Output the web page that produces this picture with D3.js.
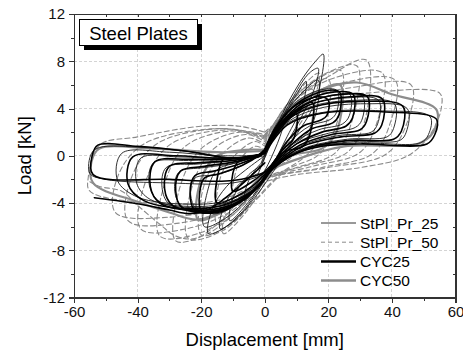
<!DOCTYPE html>
<html>
<head>
<meta charset="utf-8">
<title>Steel Plates</title>
<style>
  body { margin: 0; background: #fff; }
  svg, svg text { font-family: "Liberation Sans", Arial, sans-serif; }
  .grid line { stroke: #d4d4d4; stroke-width: 1px; stroke-dasharray: 3,2; shape-rendering: crispEdges; }
  .axis path, .axis line { fill: none; stroke: #333; shape-rendering: crispEdges; }
  .axis text { font-size: 15px; fill: #111; font-family: "Liberation Sans", Arial, sans-serif; }
  .loop { fill: none; stroke-linejoin: round; stroke-linecap: round; }
</style>
</head>
<body>
<script src="https://d3js.org/d3.v7.min.js"></script>
<script>

var xTicks = [-60, -40, -20, 0, 20, 40, 60];
var yTicks = [-12, -8, -4, 0, 4, 8, 12];
var seriesNames = ["StPl_Pr_25", "StPl_Pr_50", "CYC25", "CYC50"];

// thin black: StPl_Pr_25, one array per cycle, [displacement mm, load kN]
var stplPr25 = [
  [[-1,-0.6],[2,1.4],[5,3.0],[6.5,3.6],[5.5,2.2],[2,-0.2],[-2,-2.2],[-5,-3.4],[-6.5,-3.8],[-5.5,-2.4],[-3,-1.2],[-1,-0.6]],
  [[-1,-0.8],[4,2.2],[10,5.2],[13,6.3],[12,4.4],[7,1.6],[1,-1.5],[-6,-4.2],[-11,-5.5],[-10,-3.6],[-5,-1.6],[-1,-0.8]],
  [[-2,-1.5],[3,1.8],[9,5.0],[14,7.0],[16.8,7.4],[15.5,5.6],[11,3.0],[5,0.2],[-1,-2.5],[-8,-5.0],[-14,-6.2],[-13,-4.4],[-8,-2.4],[-2,-1.5]],
  [[0,0],[6,3.8],[12,6.6],[16,8.0],[18.4,8.6],[17.8,6.5],[15,4.0],[10,1.8],[4,-0.8],[-3,-3.5],[-10,-5.6],[-17.7,-6.6],[-16.5,-4.5],[-12,-2.6],[-6,-1.2],[0,0]],
  [[0,0],[6,3.4],[12,5.4],[16.8,6.4],[16,3.5],[13,1.8],[7,0.6],[1,-1.4],[-6,-3.8],[-13,-5.4],[-19,-6.0],[-18,-3.0],[-15,-1.2],[-9,-0.6],[-4,-0.2],[0,0]],
  [[0,0.6],[4,2.8],[10,4.6],[18,5.6],[22.8,5.5],[22.6,3.7],[20.8,3.1],[14,2.5],[8,1.2],[3,-0.4],[-2,-2.4],[-8,-3.9],[-15,-4.9],[-21.5,-4.5],[-23.3,-3.3],[-22,-1.9],[-15,-1.6],[-7,-0.8],[-2,0.1],[0,0.6]],
  [[0,0.5],[5,2.8],[12,4.5],[21,5.4],[26.8,5.2],[26.6,3.4],[24.5,2.7],[17,2.2],[9,1.1],[3,-0.6],[-2,-2.5],[-9,-4.0],[-17,-4.8],[-26,-4.3],[-28.3,-3.0],[-27,-1.4],[-19,-1.0],[-9,-0.6],[-2,0.1],[0,0.5]],
  [[0,0.5],[5,2.8],[13,4.4],[23,5.2],[30.8,5.0],[30.5,3.0],[28.5,2.4],[20,1.9],[10,1.0],[3,-0.7],[-2,-2.5],[-10,-4.1],[-19,-4.6],[-30,-4.1],[-32.3,-2.7],[-31,-1.0],[-21,-0.7],[-10,-0.4],[-2,0.1],[0,0.5]],
  [[0,0.4],[6,2.9],[14,4.3],[26,4.9],[35.8,4.7],[35.5,2.7],[33.5,2.0],[23,1.7],[11,0.8],[3,-0.8],[-2,-2.5],[-10,-4.0],[-20,-4.4],[-33,-3.9],[-36.3,-2.5],[-35,-0.6],[-24,-0.4],[-11,-0.3],[-2,0.1],[0,0.4]],
  [[0,0.4],[6,2.9],[15,4.2],[29,4.7],[40.8,4.4],[40.5,2.3],[38.5,1.6],[26,1.4],[12,0.6],[3,-0.9],[-2,-2.5],[-11,-3.9],[-22,-4.3],[-36,-3.7],[-40.3,-2.3],[-39,-0.2],[-27,-0.1],[-12,-0.2],[-2,0.1],[0,0.4]],
  [[0,0.3],[7,2.8],[17,4.0],[32,4.4],[44.8,4.0],[44.5,2.0],[42.5,1.3],[28,1.2],[13,0.5],[3,-1.0],[-2,-2.4],[-12,-3.8],[-24,-4.1],[-40,-3.5],[-46.3,-2.1],[-45,0.2],[-30,0.3],[-14,0],[-2,0.1],[0,0.3]],
  [[0,0.2],[7,2.7],[19,3.7],[37,3.8],[52,3.3],[51.5,1.8],[49,1.1],[30,1.1],[16,0.8],[7,0],[0,-1.5],[-10,-2.3],[-30,-2.3],[-50,-2.0],[-55,-1.5],[-54.5,0.2],[-52,0.7],[-38,0.7],[-22,0.3],[-9,-0.2],[0,0.2]]
];

// grey dashed: StPl_Pr_50
var stplPr50 = [
  [[0,0.5],[4,2.8],[10,4.2],[8,0.8],[3,-0.8],[-3,-2.6],[-10,-4.2],[-8,-0.5],[-3,0.8],[0,0.5]],
  [[0,0.8],[5,3.4],[10,4.8],[15,5.6],[13.5,1.6],[9,0],[3,-1.2],[-4,-3.4],[-10,-5.0],[-15,-5.8],[-13.5,-1.5],[-8,0.4],[-3,1.2],[0,0.8]],
  [[-2,-1.2],[4,2.6],[11,5.6],[17,7.0],[15.5,4.8],[9,1.8],[2,-1.4],[-6,-4.8],[-13,-6.6],[-12,-4.4],[-6,-2.0],[-2,-1.2]],
  [[0,1.0],[6,4.0],[14,5.8],[20,6.5],[18.5,2.0],[13,0],[5,-1.5],[-4,-4.0],[-12,-6.0],[-20,-6.7],[-18.5,-2.0],[-12,0.5],[-5,1.5],[0,1.0]],
  [[0,1.2],[7,4.3],[16,6.4],[24,7.2],[22.5,2.6],[17,0.1],[7,-1.2],[-3,-3.8],[-13,-6.3],[-24,-7.0],[-22.5,-2.3],[-16,0.6],[-6,1.8],[0,1.2]],
  [[0,1.5],[8,4.6],[18,6.8],[29,7.6],[27.5,3.0],[22,0.2],[10,-1.0],[0,-2.0],[-8,-4.5],[-18,-6.6],[-28,-7.2],[-26.5,-2.5],[-20,0.6],[-8,2.0],[0,1.5]],
  [[0,1.4],[9,4.6],[20,6.7],[32,8.1],[31.5,3.0],[26,0.3],[12,-0.9],[0,-1.9],[-9,-4.6],[-20,-6.5],[-33,-6.8],[-31.5,-2.4],[-25,0.8],[-10,2.1],[0,1.4]],
  [[0,1.6],[10,4.8],[22,6.6],[37,7.0],[35.5,3.0],[30,0.3],[15,-0.9],[0,-2.0],[-10,-4.6],[-25,-6.2],[-39,-6.2],[-37.5,-2.2],[-30,0.9],[-12,2.2],[0,1.6]],
  [[0,1.7],[11,4.7],[25,6.2],[41,6.4],[39.5,2.8],[34,0.2],[18,-1.0],[0,-2.0],[-11,-4.4],[-27,-5.7],[-43,-5.5],[-42,-1.9],[-34,1.0],[-14,2.3],[0,1.7]],
  [[0,1.8],[12,4.7],[28,5.8],[46,6.0],[44.5,2.6],[38,0.1],[20,-1.0],[0,-2.0],[-12,-4.2],[-30,-5.2],[-47,-4.8],[-46,-1.6],[-38,1.0],[-15,2.3],[0,1.8]],
  [[0,2.0],[14,4.6],[32,5.3],[55,5.3],[55.5,4.0],[52,1.8],[45,0],[30,-1.0],[10,-1.6],[0,-2.2],[-15,-3.8],[-35,-4.0],[-55,-3.0],[-55.5,-1.8],[-52,0.9],[-40,1.6],[-20,2.5],[-8,2.5],[0,2.0]],
  [[-55,-2.2],[-52,-2.6],[-45,-3.0],[-40,-4.2],[-33,-5.8],[-28,-6.8],[-22,-7.0],[-15,-5.8],[-8,-3.8],[0,-1.6]]
];

// thick black: CYC25
var cyc25 = [
  [[0,0.2],[4,2.0],[10,3.5],[9,1.4],[6,0.6],[2,-0.8],[-4,-2.2],[-10,-3.0],[-9.5,-1.0],[-7,-0.2],[-3,0],[0,0.2]],
  [[0,0.3],[5,2.6],[10,3.8],[15,4.5],[14.2,1.8],[12,0.8],[6,0.3],[2,-1.0],[-4,-2.6],[-10,-3.6],[-15,-4.0],[-14.5,-1.3],[-13,-0.3],[-7,-0.2],[-2,-0.1],[0,0.3]],
  [[0,0.5],[4,2.6],[10,4.3],[17,5.0],[20,4.7],[19.5,3.4],[17.5,3.0],[12,2.5],[7,1.2],[3,-0.5],[-2,-2.5],[-8,-3.9],[-14,-4.6],[-20,-4.6],[-20.5,-3.2],[-19,-1.9],[-14,-1.5],[-7,-0.8],[-2,0],[0,0.5]],
  [[0,0.5],[4,2.6],[10,4.4],[19,5.5],[23.5,5.4],[23.4,3.5],[21.5,2.8],[15,2.3],[9,1.1],[3,-0.6],[-2,-2.6],[-8,-4.0],[-15,-4.8],[-22,-4.6],[-23.5,-3.2],[-22,-1.7],[-16,-1.3],[-8,-0.7],[-2,0],[0,0.5]],
  [[0,0.4],[5,2.7],[12,4.5],[22,5.4],[27.8,5.2],[27.6,3.2],[25.5,2.5],[18,2.0],[10,1.0],[3,-0.7],[-2,-2.6],[-9,-4.1],[-17,-4.8],[-26,-4.4],[-28,-3.0],[-26.5,-1.3],[-19,-0.9],[-9,-0.5],[-2,0],[0,0.4]],
  [[0,0.4],[5,2.7],[13,4.4],[24,5.2],[32.3,5.0],[32,2.9],[30,2.2],[21,1.8],[11,0.9],[3,-0.8],[-2,-2.6],[-10,-4.2],[-19,-4.7],[-29,-4.2],[-31.5,-2.8],[-30,-0.9],[-21,-0.6],[-10,-0.4],[-2,0],[0,0.4]],
  [[0,0.3],[6,2.8],[14,4.3],[27,5.0],[37,4.8],[36.8,2.6],[34.5,1.9],[24,1.6],[12,0.8],[3,-0.9],[-2,-2.6],[-10,-4.1],[-20,-4.6],[-33,-4.0],[-36,-2.6],[-34.5,-0.5],[-24,-0.3],[-11,-0.3],[-2,0],[0,0.3]],
  [[0,0.3],[6,2.8],[15,4.1],[30,4.6],[43.4,4.2],[43,2.1],[40.5,1.4],[27,1.3],[13,0.6],[3,-1.0],[-2,-2.6],[-11,-4.0],[-22,-4.5],[-38,-3.8],[-43,-2.4],[-41.5,-0.1],[-28,0],[-13,-0.2],[-2,0],[0,0.3]],
  [[0,0.2],[7,2.6],[18,3.6],[38,3.7],[54,3.1],[53.5,1.8],[51,1.0],[30,1.0],[18,0.8],[8,0],[0,-1.4],[-10,-2.1],[-30,-2.0],[-54,-1.6],[-54.3,0],[-52.5,0.9],[-40,0.8],[-25,0.4],[-10,-0.2],[0,0.2]],
  [[-53.6,-3.55],[-39,-4.1],[-30,-4.6],[-24,-4.9],[-19,-4.7],[-14,-3.9],[-8,-2.6],[0,-0.6]]
];

// thick grey: CYC50
var cyc50 = [
  [[0,0.5],[6,3.5],[14,5.0],[23.7,6.0],[22.5,2.0],[18,0.6],[8,0],[0,-1.5],[-8,-3.8],[-15,-5.0],[-21,-5.4],[-20,-2.0],[-15,0],[-6,0.5],[0,0.5]],
  [[0,0.4],[8,4.0],[18,5.6],[29,6.2],[40,5.2],[54,3.9],[53,2.0],[48,1.0],[25,0.8],[8,-0.5],[0,-1.5],[-10,-4.2],[-21,-5.4],[-30,-4.8],[-40,-3.9],[-54,-2.3],[-54.5,-0.5],[-52,0.6],[-35,0.6],[-15,0.3],[0,0.4]]
];

var margin = {top: 14, left: 74},
    width = 381.5,
    height = 283.5;

var x = d3.scaleLinear().domain([-60, 60]).range([0, width]);
var y = d3.scaleLinear().domain([-12, 12]).range([height, 0]);
var fmt = function (d) { return String(d); };

var svg = d3.select("body").append("svg")
    .attr("width", 463)
    .attr("height", 358);

var g = svg.append("g")
    .attr("transform", "translate(" + margin.left + "," + margin.top + ")");

// grid
g.append("g").attr("class", "grid")
  .selectAll("line").data(xTicks.slice(1, -1)).join("line")
    .attr("x1", d => x(d)).attr("x2", d => x(d))
    .attr("y1", 0).attr("y2", height);
g.append("g").attr("class", "grid")
  .selectAll("line").data(yTicks.slice(1, -1)).join("line")
    .attr("y1", d => y(d)).attr("y2", d => y(d))
    .attr("x1", 0).attr("x2", width);

svg.append("clipPath").attr("id", "clip")
  .append("rect").attr("width", width).attr("height", height);

var plot = g.append("g").attr("clip-path", "url(#clip)");

var line = d3.line()
    .x(d => x(d[0]))
    .y(d => y(d[1]))
    .curve(d3.curveCatmullRom.alpha(0.5));

function drawLoops(data, color, w, dash) {
  plot.append("g").selectAll("path").data(data).join("path")
      .attr("class", "loop")
      .attr("d", line)
      .attr("stroke", color)
      .attr("stroke-width", w)
      .attr("stroke-dasharray", dash);
}

drawLoops(stplPr50, "#8a8a8a", 1.1, "5,3");
drawLoops(cyc50, "#8c8c8c", 2.2, null);
drawLoops(stplPr25, "#1a1a1a", 0.9, null);
drawLoops(cyc25, "#000", 1.6, null);

// axes
var minorX = d3.range(-60, 61, 10), minorY = d3.range(-12, 13, 2);

g.append("g").attr("class", "axis")
    .attr("transform", "translate(0," + height + ")")
    .call(d3.axisBottom(x).tickValues(minorX).tickSize(3).tickFormat(""));
g.append("g").attr("class", "axis")
    .attr("transform", "translate(0," + height + ")")
    .call(d3.axisBottom(x).tickValues(xTicks).tickSize(5).tickPadding(4).tickFormat(fmt));
g.append("g").attr("class", "axis")
    .call(d3.axisLeft(y).tickValues(minorY).tickSize(3).tickFormat(""));
g.append("g").attr("class", "axis")
    .call(d3.axisLeft(y).tickValues(yTicks).tickSize(5).tickPadding(4).tickFormat(fmt));
g.append("g").attr("class", "axis")
    .call(d3.axisTop(x).tickValues(minorX).tickSize(-3).tickFormat(""));
g.append("g").attr("class", "axis")
    .attr("transform", "translate(" + width + ",0)")
    .call(d3.axisRight(y).tickValues(minorY).tickSize(-3).tickFormat(""));

g.selectAll(".axis path").attr("stroke-width", 1.3);

// axis titles
svg.append("text")
    .attr("x", margin.left + width / 2).attr("y", 346)
    .attr("text-anchor", "middle")
    .style("font-size", "18.5px")
    .text("Displacement [mm]");
svg.append("text")
    .attr("transform", "translate(31," + (margin.top + height / 2) + ") rotate(-90)")
    .attr("text-anchor", "middle")
    .style("font-size", "18.5px")
    .text("Load [kN]");

// title box with shadow
svg.append("rect").attr("x", 84).attr("y", 24).attr("width", 118).attr("height", 26).attr("fill", "#000");
svg.append("rect").attr("x", 79.5).attr("y", 19.5).attr("width", 118).attr("height", 26)
    .attr("fill", "#fff").attr("stroke", "#000").attr("stroke-width", 1);
svg.append("text").attr("x", 138.5).attr("y", 39.5)
    .attr("text-anchor", "middle")
    .style("font-size", "18.5px")
    .text("Steel Plates");

// legend
var legendStyle = [
  {color: "#333", w: 1, dash: null},
  {color: "#8a8a8a", w: 1, dash: "4,3"},
  {color: "#000", w: 2.5, dash: null},
  {color: "#8c8c8c", w: 2.5, dash: null}
];
var lg = svg.append("g").selectAll("g").data(seriesNames).join("g")
    .attr("transform", (d, i) => "translate(321," + (223 + i * 19.2) + ")");
lg.append("line")
    .attr("x1", 0).attr("x2", 35).attr("y1", 0).attr("y2", 0)
    .attr("stroke", (d, i) => legendStyle[i].color)
    .attr("stroke-width", (d, i) => legendStyle[i].w)
    .attr("stroke-dasharray", (d, i) => legendStyle[i].dash);
lg.append("text")
    .attr("x", 39).attr("y", 5.5)
    .style("font-size", "15.5px")
    .text(d => d);

</script>
</body>
</html>
